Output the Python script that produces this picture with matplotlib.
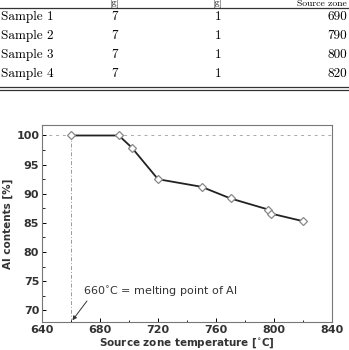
import matplotlib.pyplot as plt
from matplotlib.lines import Line2D
import numpy as np

# данные таблицы (верхняя часть, обрезана)
samples = ["Sample 1", "Sample 2", "Sample 3", "Sample 4"]
mass_a = [7, 7, 7, 7]
mass_b = [1, 1, 1, 1]
source_temp = [690, 790, 800, 820]
headers = ["[g]", "[g]", "Source zone"]

# данные графика
temps = [660, 693, 702, 720, 750, 770, 796, 798, 820]
al = [100, 100, 97.9, 92.5, 91.2, 89.2, 87.3, 86.6, 85.3]

W, H = 349, 350
fig = plt.figure(figsize=(W / 100, H / 100), dpi=100)


def fy(py):
    return 1 - py / H


def fx(px):
    return px / W


# таблица
tfont = dict(family="cmr10", size=9.5)
hfont = dict(family="cmr10", size=7)
fig.text(fx(115), fy(3.5), headers[0], ha="center", va="center", **hfont)
fig.text(fx(218), fy(3.5), headers[1], ha="center", va="center", **hfont)
fig.text(fx(347), fy(3.5), headers[2], ha="right", va="center", **hfont)
for i, s in enumerate(samples):
    y = fy(17 + i * 19)
    fig.text(fx(1), y, s, ha="left", va="center", **tfont)
    fig.text(fx(115), y, str(mass_a[i]), ha="center", va="center", **tfont)
    fig.text(fx(218), y, str(mass_b[i]), ha="center", va="center", **tfont)
    fig.text(fx(347), y, str(source_temp[i]), ha="right", va="center", **tfont)

for py in [8, 87, 89.5]:
    fig.add_artist(Line2D([0, 1], [fy(py), fy(py)], color="#333333", lw=0.9,
                          transform=fig.transFigure))

# график
ax = fig.add_axes([fx(42), fy(322), fx(332) - fx(42), fy(125) - fy(322)])
ax.plot(temps, al, color="#222222", lw=1.3, marker="D", markersize=4,
        markerfacecolor="white", markeredgecolor="#888888", markeredgewidth=0.9,
        zorder=3)
ax.axhline(100, color="#aaaaaa", lw=0.7, ls=(0, (3, 4)), zorder=1)
ax.plot([660, 660], [68, 100], color="#999999", lw=0.7, ls=(0, (4, 2, 1, 2)), zorder=1)

ax.set_xlim(640, 840)
ax.set_ylim(68, 101.8)
ax.set_xticks(np.arange(640, 841, 40))
ax.set_xticks(np.arange(640, 841, 20), minor=True)
ax.set_yticks(np.arange(70, 101, 5))
ax.set_yticks(np.arange(70, 101, 2.5), minor=True)
ax.tick_params(direction="in", length=3, width=0.7, labelsize=8, pad=2)
ax.tick_params(which="minor", direction="in", length=1.8, width=0.6)
for lab in ax.get_xticklabels() + ax.get_yticklabels():
    lab.set_fontweight("bold")
    lab.set_color("#333333")
for sp in ax.spines.values():
    sp.set_color("#777777")
    sp.set_linewidth(0.8)

ax.set_xlabel("Source zone temperature [$^{\\circ}$C]", fontsize=7.5,
              fontweight="bold", color="#333333", labelpad=1)
ax.set_ylabel("Al contents [%]", fontsize=7.5, fontweight="bold",
              color="#333333", labelpad=2)

ax.text(668, 73.2, "660$^{\\circ}$C = melting point of Al", fontsize=8,
        color="#333333", va="center")
ax.annotate("", xy=(661, 68.3), xytext=(671, 71.6),
            arrowprops=dict(arrowstyle="-|>", color="#333333", lw=0.7,
                            mutation_scale=6, shrinkA=0, shrinkB=0))

fig.savefig("out.png", dpi=100)
